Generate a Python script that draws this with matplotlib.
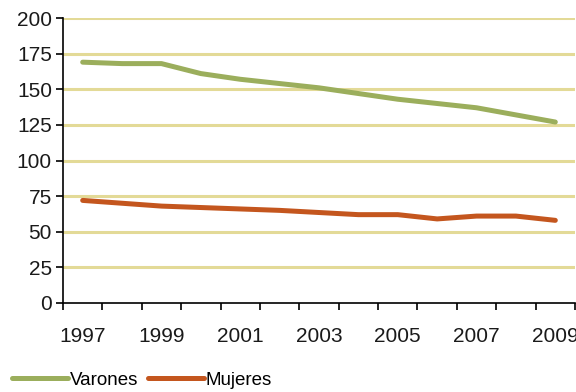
import matplotlib
matplotlib.use("Agg")
from matplotlib import pyplot as plt

plt.rcParams['font.family'] = ['Liberation Sans', 'DejaVu Sans']

# datos
years = ["1997", "1998", "1999", "2000", "2001", "2002", "2003",
         "2004", "2005", "2006", "2007", "2008", "2009"]
varones = [169, 168, 168, 161, 157, 154, 151, 147, 143, 140, 137, 132, 127]
mujeres = [72, 70, 68, 67, 66, 65, 63.5, 62, 62, 59, 61, 61, 58]

fig = plt.figure(figsize=(5.76, 3.92), dpi=100)
ax = fig.add_axes([63 / 576, 1 - 303 / 392, 512 / 576, 285 / 392])

x = range(len(years))
ax.plot(x, varones, color="#9BAE5C", lw=3.6, solid_capstyle="round", label="Varones", zorder=3)
ax.plot(x, mujeres, color="#C4561E", lw=3.6, solid_capstyle="round", label="Mujeres", zorder=3)

ax.set_xlim(-0.5, len(years) - 0.5)
ax.set_ylim(0, 200)
ax.set_yticks(range(0, 201, 25))

# etiquetas de categorias cada dos anos, marcas entre categorias
ax.set_xticks(range(0, len(years), 2))
ax.set_xticklabels(years[::2])
ax.set_xticks([i - 0.5 for i in range(len(years) + 1)], minor=True)
ax.tick_params(axis="x", which="major", length=0, pad=17, labelsize=15, colors="#1a1a1a")
ax.tick_params(axis="x", which="minor", length=5, width=1.2, direction="out", color="black")
ax.tick_params(axis="y", length=5, width=1.2, labelsize=15, pad=3, colors="black", labelcolor="#1a1a1a")

for v in range(25, 201, 25):
    ax.axhline(v, color="#E3DA97", lw=2.2, zorder=1)

for s in ["top", "right"]:
    ax.spines[s].set_visible(False)
ax.spines["left"].set_linewidth(1.2)
ax.spines["bottom"].set_linewidth(1.2)

fig.legend(loc="center left", bbox_to_anchor=(8 / 576, 1 - 380 / 392), ncol=2, frameon=False,
           fontsize=13.5, handlelength=3.0, handletextpad=0.1, columnspacing=0.5,
           borderaxespad=0, borderpad=0.2)

plt.savefig("out.png", dpi=100)
